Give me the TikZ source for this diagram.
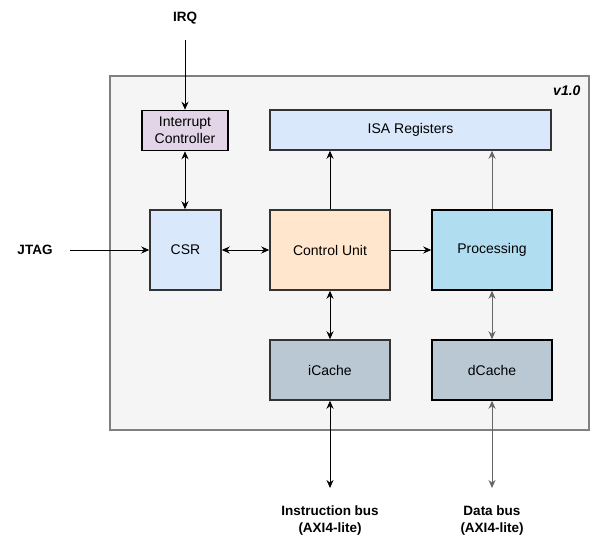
\documentclass[tikz,border=0pt]{standalone}
\usepackage{fontspec}
\setmainfont{Liberation Sans}
\usetikzlibrary{arrows.meta}
\definecolor{frameFill}{HTML}{F5F5F5}
\definecolor{frameLine}{HTML}{808080}
\definecolor{greyLine}{HTML}{666666}
\definecolor{intFill}{HTML}{E1D5E7}
\definecolor{regFill}{HTML}{DAE8FC}
\definecolor{cuFill}{HTML}{FFE6CC}
\definecolor{procFill}{HTML}{B1DDF0}
\definecolor{cacheFill}{HTML}{BAC8D3}

\begin{document}
\begin{tikzpicture}[x=1pt, y=-1pt, font=\fontsize{14}{16.5}\selectfont,
  blk/.style={draw=black!80, line width=1.5pt, inner sep=0pt, align=center},
  lbl/.style={font=\fontsize{13.5}{17}\selectfont\bfseries, align=center},
  arr/.style={-{Stealth[length=8pt,width=7pt]}, line width=1pt},
  biarr/.style={{Stealth[length=8pt,width=7pt]}-{Stealth[length=8pt,width=7pt]}, line width=1pt}]
\useasboundingbox (0,0) rectangle (592,551);
% core frame
\draw[frameLine, fill=frameFill, line width=2pt] (110,76) rectangle (589,430);
\node[font=\fontsize{14}{16}\selectfont\bfseries\itshape, anchor=east] (ver) at (584,91) {v1.0};
% blocks
\node[blk, fill=intFill, draw=black, minimum width=86pt, minimum height=40pt] (intc) at (185,130.5) {Interrupt\\Controller};
\node[blk, fill=regFill, minimum width=281pt, minimum height=40pt] (isa) at (410.5,130) {\raisebox{-1pt}{ISA Registers}};
\node[blk, fill=regFill, minimum width=71pt, minimum height=80pt] (csr) at (185.5,250) {\raisebox{-1.5pt}{CSR}};
\node[blk, fill=cuFill, minimum width=120pt, minimum height=80pt] (cu) at (330,250) {\raisebox{-1.5pt}{Control Unit}};
\node[blk, fill=procFill, draw=black, minimum width=120pt, minimum height=80pt] (proc) at (492,250) {\raisebox{-1.5pt}{Processing}};
\node[blk, fill=cacheFill, minimum width=120pt, minimum height=60pt] (icache) at (330,370) {\raisebox{-1.5pt}{iCache}};
\node[blk, fill=cacheFill, draw=black, minimum width=120pt, minimum height=60pt] (dcache) at (492,370) {\raisebox{-1.5pt}{dCache}};
% outside labels
\node[lbl] (irq) at (185,18) {IRQ};
\node[lbl] (jtag) at (35,250) {JTAG};
\node[lbl] (ibus) at (330,521) {Instruction bus\\(AXI4-lite)};
\node[lbl] (dbus) at (492,521) {Data bus\\(AXI4-lite)};
\coordinate (irqEnd) at (185,40);
\coordinate (jtagEnd) at (70,250);
\coordinate (ibusEnd) at (330,488);
\coordinate (dbusEnd) at (492,488);
% connectors
\draw[arr] (irqEnd) -- (intc);
\draw[arr] (jtagEnd) -- (csr);
\draw[biarr] (intc) -- (intc |- csr.north);
\draw[biarr] (csr) -- (cu);
\draw[arr] (cu) -- (proc);
\draw[arr] (cu) -- (cu |- isa.south);
\draw[arr, greyLine] (proc) -- (proc |- isa.south);
\draw[biarr] (cu) -- (icache);
\draw[biarr, greyLine] (proc) -- (dcache);
\draw[biarr] (icache) -- (ibusEnd);
\draw[biarr, greyLine] (dcache) -- (dbusEnd);
\end{tikzpicture}
\end{document}
